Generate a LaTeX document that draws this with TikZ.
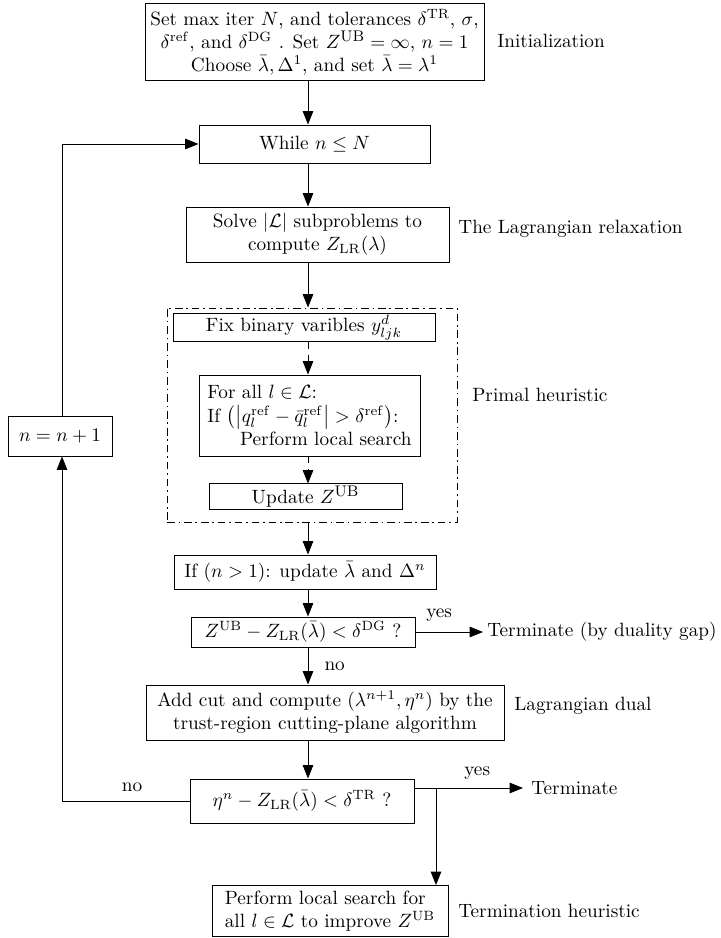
\documentclass[tikz,border=0pt]{standalone}
\usepackage{amsmath,amssymb}
\usetikzlibrary{arrows.meta,calc}
\newcommand\pxu{0.52pt}
\begin{document}
\begin{tikzpicture}[x=0.52pt,y=-0.52pt,
  box/.style={draw, line width=0.5pt, inner sep=1pt, align=center},
  lbl/.style={inner sep=0pt, anchor=west},
  conn/.style={line width=0.5pt, -{Triangle[length=7pt,width=5.5pt]}},
  dconn/.style={line width=0.5pt, dash pattern=on 3.5pt off 3pt, -{Triangle[length=7pt,width=5.5pt]}},
  dashdot/.style={draw, line width=0.5pt, dash pattern=on 4pt off 2pt on 0.8pt off 2pt}]
\useasboundingbox (0,0) rectangle (721,938);

% main boxes
\node[box, minimum width=339*\pxu, minimum height=77*\pxu] (init) at (314.5,42)
  {Set max iter $N$, and tolerances $\delta^{\mathrm{TR}}$, $\sigma$,\\
   $\delta^{\mathrm{ref}}$, and $\delta^{\mathrm{DG}}$ . Set $Z^{\mbox{\footnotesize UB}}=\infty$, $n=1$\\
   Choose $\bar\lambda,\Delta^1$, and set $\bar\lambda=\lambda^1$};
\node[lbl] (linit) at (497,41) {Initialization};

\node[box, minimum width=231*\pxu, minimum height=38*\pxu] (while) at (314.5,144) {While $n\le N$};

\node[box, minimum width=263*\pxu, minimum height=55*\pxu] (solve) at (317.5,234.5)
  {Solve $|\mathcal{L}|$ subproblems to\\ compute $Z_{\mathrm{LR}}(\lambda)$};
\node[lbl] (lsolve) at (458,229) {The Lagrangian relaxation};

% primal heuristic group
\node[dashdot, minimum width=290*\pxu, minimum height=214*\pxu, inner sep=0pt] (grp) at (312,415) {};
\node[lbl] (lgrp) at (472,395) {Primal heuristic};

\node[box, minimum width=262*\pxu, minimum height=23*\pxu] (fix) at (304,327.5)
  {Fix binary varibles $y^{d}_{ljk}$};
\node[box, minimum width=221*\pxu, minimum height=81*\pxu, align=left] (forall) at (309.5,415.5)
  {For all $l\in\mathcal{L}$:\\
   If $\bigl(\bigl|q_l^{\mathrm{ref}}-\bar q_l^{\mathrm{ref}}\bigr|>\delta^{\mathrm{ref}}\bigr)$:\\
   \hspace*{1.7em}Perform local search};
\node[box, minimum width=193*\pxu, minimum height=23*\pxu] (update) at (305.5,496.5)
  {Update $Z^{\mbox{\footnotesize UB}}$};

\node[box, minimum width=262*\pxu, minimum height=34*\pxu] (ifb) at (305,572)
  {If $(n>1)$: update $\bar\lambda$ and $\Delta^n$};

\node[box, minimum width=224*\pxu, minimum height=30*\pxu] (dg) at (303,632)
  {$Z^{\mathrm{UB}}-Z_{\mathrm{LR}}(\bar\lambda)<\delta^{\mathrm{DG}}$ ?};
\node[lbl] (tdg) at (487,632) {Terminate (by duality gap)};

\node[box, minimum width=358*\pxu, minimum height=55*\pxu] (cut) at (325,712.5)
  {Add cut and compute $(\lambda^{n+1},\eta^n)$ by the\\ trust-region cutting-plane algorithm};
\node[lbl] (lcut) at (514,706) {Lagrangian dual};

\node[box, minimum width=224*\pxu, minimum height=44*\pxu] (tr) at (302,801)
  {$\eta^n-Z_{\mathrm{LR}}(\bar\lambda)<\delta^{\mathrm{TR}}$ ?};
\node[lbl] (ttr) at (531,788) {Terminate};

\node[box, minimum width=236*\pxu, minimum height=51*\pxu, align=left] (heur) at (330,911)
  {Perform local search for\\ all $l\in\mathcal{L}$ to improve $Z^{\mathrm{UB}}$};
\node[lbl] (lheur) at (458,911) {Termination heuristic};

\node[box, minimum width=104*\pxu, minimum height=40*\pxu] (inc) at (60,436) {$n=n+1$};

% coordinates
\coordinate (sx) at (308,0);
\coordinate (lx) at (62,0);
\coordinate (dgend) at (483,632);
\coordinate (trr) at (414,788);
\coordinate (trend) at (523,788);
\coordinate (br) at (436,788);

% spine
\draw[conn] (init.south -| sx) -- (while.north -| sx);
\draw[conn] (while.south -| sx) -- (solve.north -| sx);
\draw[conn] (solve.south -| sx) -- (grp.north -| sx);
\draw[dconn] (fix.south -| sx) -- (forall.north -| sx);
\draw[dconn] (forall.south -| sx) -- (update.north -| sx);
\draw[conn] (grp.south -| sx) -- (ifb.north -| sx);
\draw[conn] (ifb.south -| sx) -- (dg.north -| sx);
\draw[conn] (dg.south -| sx) -- node[right=5pt, pos=0.5] {no} (cut.north -| sx);
\draw[conn] (cut.south -| sx) -- (tr.north -| sx);

% exits
\draw[conn] (dg.east) -- node[above=2pt, pos=0.35] {yes} (dgend);
\draw[conn] (trr) -- node[above=1pt, pos=0.58] {yes} (trend);
\draw[conn] (br) -- (heur.north -| br);

% loop
\draw[conn] (tr.west) -- node[above=1pt, pos=0.45] {no} (tr.west -| lx) -- (inc.south -| lx);
\draw[conn] (inc.north -| lx) |- (while.west);
\end{tikzpicture}
\end{document}
